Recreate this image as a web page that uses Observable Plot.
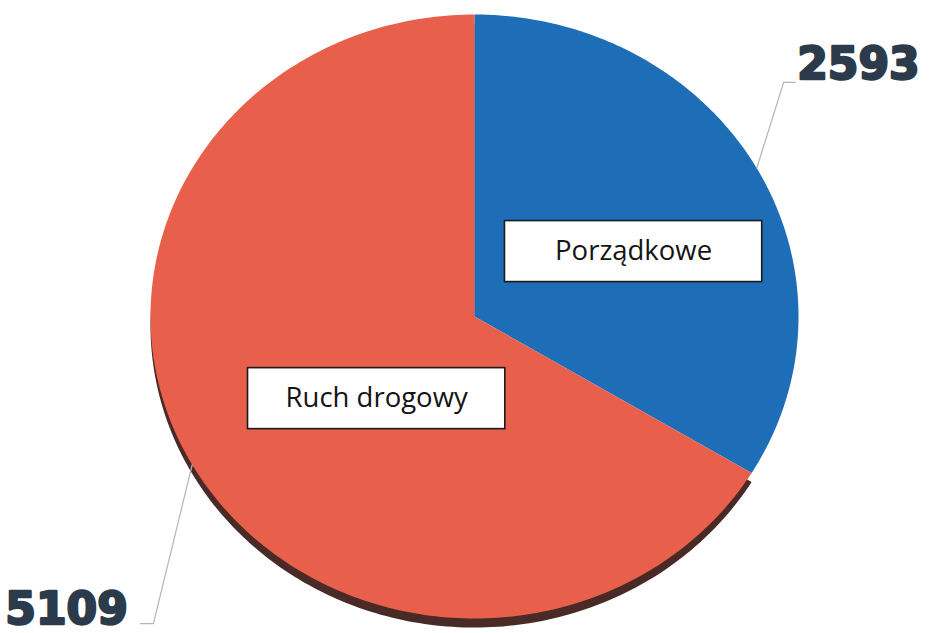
<!DOCTYPE html>
<html>
<head>
<meta charset="utf-8">
<script src="https://cdn.jsdelivr.net/npm/d3@7"></script>
<script src="https://cdn.jsdelivr.net/npm/@observablehq/plot@0.6"></script>
<style>
  html, body { margin: 0; padding: 0; background: #ffffff; }
</style>
</head>
<body>
<div id="chart"></div>
<script>
// ---- data ----
const categories = ["Porządkowe", "Ruch drogowy"];
const values = [2593, 5109];
const valueLabels = ["2593", "5109"];
const colors = ["#1d6db7", "#e8604b"];

// ---- layout (data units, pie radius = 1) ----
const layout = {
  boxCenters: [[0.491, 0.215], [-0.302, -0.272]],
  boxHalf: [0.397, 0.101],
  elbows: [[0.954, 0.775], [-0.991, -1.017]],
  ends: [[0.99, 0.775], [-1.031, -1.017]],
  numberAnchors: [[0.996, 0.785], [-1.448, -1.017]],
  shadowDrop: 0.03
};

const total = d3.sum(values);
const slices = [];
let acc = 0;
values.forEach((v, i) => {
  const a0 = acc / total * 2 * Math.PI;
  acc += v;
  const a1 = acc / total * 2 * Math.PI;
  slices.push({category: categories[i], value: v, label: valueLabels[i], color: colors[i], a0, a1, mid: (a0 + a1) / 2, i});
});

function slicePoints(s, dy = 0) {
  const pts = [{x: 0, y: dy, category: s.category}];
  const n = 240;
  for (let k = 0; k <= n; k++) {
    const t = s.a0 + (s.a1 - s.a0) * k / n;
    pts.push({x: Math.sin(t), y: Math.cos(t) + dy, category: s.category});
  }
  pts.push({x: 0, y: dy, category: s.category});
  return pts;
}

const piePts = slices.flatMap(s => slicePoints(s));
const shadowPts = slicePoints(slices[1], -layout.shadowDrop);

const leaderPts = slices.flatMap(s => [
  {x: Math.sin(s.mid), y: Math.cos(s.mid), category: s.category},
  {x: layout.elbows[s.i][0], y: layout.elbows[s.i][1], category: s.category},
  {x: layout.ends[s.i][0], y: layout.ends[s.i][1], category: s.category}
]);

const boxes = slices.map(s => ({
  category: s.category,
  x1: layout.boxCenters[s.i][0] - layout.boxHalf[0],
  x2: layout.boxCenters[s.i][0] + layout.boxHalf[0],
  y1: layout.boxCenters[s.i][1] - layout.boxHalf[1],
  y2: layout.boxCenters[s.i][1] + layout.boxHalf[1],
  cx: layout.boxCenters[s.i][0],
  cy: layout.boxCenters[s.i][1]
}));

const numbers = slices.map(s => ({label: s.label, x: layout.numberAnchors[s.i][0], y: layout.numberAnchors[s.i][1]}));

const chart = Plot.plot({
  width: 931,
  height: 633,
  margin: 0,
  x: {domain: [-1, 1], range: [150, 798], axis: null},
  y: {domain: [-1, 1], range: [618, 14], axis: null},
  color: {domain: categories, range: colors},
  style: {background: "#ffffff", overflow: "visible"},
  marks: [
    Plot.line(shadowPts, {x: "x", y: "y", fill: "#4a2a26", stroke: "none", curve: "linear"}),
    Plot.line(piePts, {x: "x", y: "y", z: "category", fill: "category", stroke: "none", curve: "linear"}),
    Plot.line(leaderPts, {x: "x", y: "y", z: "category", stroke: "#b5b5b5", strokeWidth: 1.2}),
    Plot.rect(boxes, {x1: "x1", x2: "x2", y1: "y1", y2: "y2", fill: "#ffffff", stroke: "#1a1a1a", strokeWidth: 1.6}),
    Plot.text(boxes, {x: "cx", y: "cy", text: "category", fontSize: 27.5, fontFamily: "Open Sans", fill: "#141414"}),
    Plot.text(numbers, {x: "x", y: "y", text: "label", textAnchor: "start", lineAnchor: "bottom",
      fontSize: 44, fontWeight: "bold", fontFamily: "DejaVu Sans", fill: "#2b3b4c", stroke: "#2b3b4c", strokeWidth: 2.4})
  ]
});

document.getElementById("chart").appendChild(chart);
</script>
</body>
</html>
